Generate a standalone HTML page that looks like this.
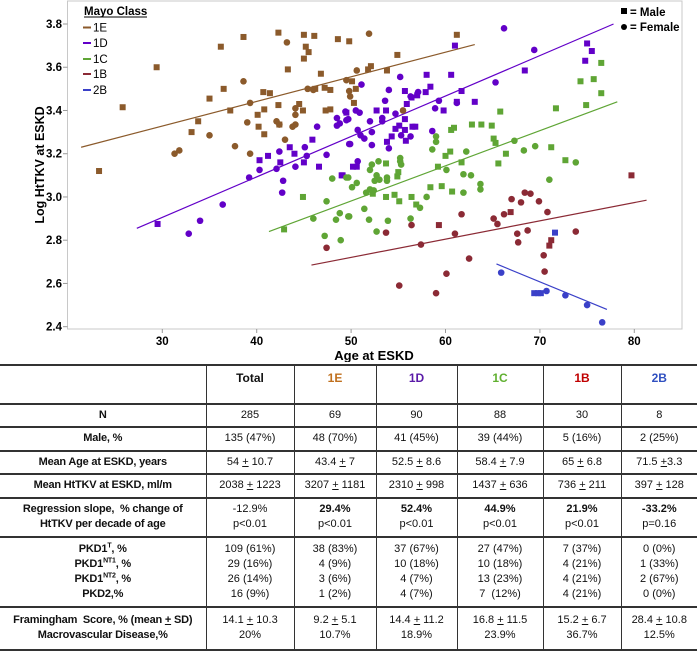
<!DOCTYPE html>
<html><head><meta charset="utf-8">
<style>
body{margin:0;background:#fff;width:697px;height:651px;overflow:hidden;position:relative;font-family:"Liberation Sans",sans-serif;}
#chart{position:absolute;left:0;top:0;}
table{position:absolute;left:0;top:364px;width:697px;border-collapse:collapse;table-layout:fixed;font-size:11px;color:#111;}
td{border-top:2px solid #333;border-bottom:2px solid #333;border-left:1.5px solid #333;text-align:center;padding:0;line-height:15px;white-space:nowrap;overflow:hidden;}
td:first-child{border-left:none;font-weight:bold;letter-spacing:-0.2px;}
tr.h td{vertical-align:top;padding-top:5px;font-weight:bold;font-size:12px;}
sup{font-size:7px;line-height:0;}
</style></head><body>
<svg id="chart" width="697" height="362" font-family="Liberation Sans, sans-serif">
<rect x="67.5" y="1" width="614.5" height="328" fill="#fff" stroke="#c8c8c8" stroke-width="1"/>
<g id="axes"></g>
<g id="lines"></g>
<g id="marks"></g>
<text transform="translate(44,165) rotate(-90)" text-anchor="middle" font-size="12.5" font-weight="bold">Log HtTKV at ESKD</text>
<text x="374" y="360" text-anchor="middle" font-size="13" font-weight="bold">Age at ESKD</text>
<g font-size="11.5">
<text x="84" y="15" font-weight="bold">Mayo Class</text>
<line x1="84" y1="17" x2="147" y2="17" stroke="#000" stroke-width="1"/>
<line x1="83" y1="27.5" x2="91" y2="27.5" stroke="#8B5A2B" stroke-width="2"/><text x="93" y="31.5">1E</text>
<line x1="83" y1="43" x2="91" y2="43" stroke="#6200C8" stroke-width="2"/><text x="93" y="47">1D</text>
<line x1="83" y1="59" x2="91" y2="59" stroke="#5FA535" stroke-width="2"/><text x="93" y="63">1C</text>
<line x1="83" y1="74" x2="91" y2="74" stroke="#8B2A35" stroke-width="2"/><text x="93" y="78">1B</text>
<line x1="83" y1="90" x2="91" y2="90" stroke="#3A40C8" stroke-width="2"/><text x="93" y="94">2B</text>
</g>
<g font-size="11.5" font-weight="bold">
<rect x="621" y="8" width="6" height="6" fill="#000"/><text x="630" y="16">= Male</text>
<circle cx="624" cy="27" r="3" fill="#000"/><text x="630" y="31">= Female</text>
</g>
</svg>

<table>
<colgroup><col style="width:206px"><col style="width:88px"><col style="width:82px"><col style="width:81px"><col style="width:86px"><col style="width:78px"><col style="width:76px"></colgroup>
<tr class="h" style="height:39px"><td></td><td>Total</td><td style="color:#C0701E">1E</td><td style="color:#5A1AA8">1D</td><td style="color:#60B030">1C</td><td style="color:#C00000">1B</td><td style="color:#3050C0">2B</td></tr>
<tr style="height:23px"><td>N</td><td>285</td><td>69</td><td>90</td><td>88</td><td>30</td><td>8</td></tr>
<tr style="height:23.5px"><td>Male, %</td><td>135 (47%)</td><td>48 (70%)</td><td>41 (45%)</td><td>39 (44%)</td><td>5 (16%)</td><td>2 (25%)</td></tr>
<tr style="height:23.5px"><td>Mean Age at ESKD, years</td><td>54 <u>+</u> 10.7</td><td>43.4 <u>+</u> 7</td><td>52.5 <u>+</u> 8.6</td><td>58.4 <u>+</u> 7.9</td><td>65 <u>+</u> 6.8</td><td>71.5 <u>+</u>3.3</td></tr>
<tr style="height:23.5px"><td>Mean HtTKV at ESKD, ml/m</td><td>2038 <u>+</u> 1223</td><td>3207 <u>+</u> 1181</td><td>2310 <u>+</u> 998</td><td>1437 <u>+</u> 636</td><td>736 <u>+</u> 211</td><td>397 <u>+</u> 128</td></tr>
<tr style="height:39px"><td>Regression slope,&nbsp; % change of<br>HtTKV per decade of age</td><td>-12.9%<br>p&lt;0.01</td><td><b>29.4%</b><br>p&lt;0.01</td><td><b>52.4%</b><br>p&lt;0.01</td><td><b>44.9%</b><br>p&lt;0.01</td><td><b>21.9%</b><br>p&lt;0.01</td><td><b>-33.2%</b><br>p=0.16</td></tr>
<tr style="height:70px"><td>PKD1<sup>T</sup>, %<br>PKD1<sup>NT1</sup>, %<br>PKD1<sup>NT2</sup>, %<br>PKD2,%</td><td>109 (61%)<br>29 (16%)<br>26 (14%)<br>16 (9%)</td><td>38 (83%)<br>4 (9%)<br>3 (6%)<br>1 (2%)</td><td>37 (67%)<br>10 (18%)<br>4 (7%)<br>4 (7%)</td><td>27 (47%)<br>10 (18%)<br>13 (23%)<br>7 &nbsp;(12%)</td><td>7 (37%)<br>4 (21%)<br>4 (21%)<br>4 (21%)</td><td>0 (0%)<br>1 (33%)<br>2 (67%)<br>0 (0%)</td></tr>
<tr style="height:43px"><td>Framingham&nbsp; Score, % (mean <u>+</u> SD)<br>Macrovascular Disease,%</td><td>14.1 <u>+</u> 10.3<br>20%</td><td>9.2 <u>+</u> 5.1<br>10.7%</td><td>14.4 <u>+</u> 11.2<br>18.9%</td><td>16.8 <u>+</u> 11.5<br>23.9%</td><td>15.2 <u>+</u> 6.7<br>36.7%</td><td>28.4 <u>+</u> 10.8<br>12.5%</td></tr>
</table>

<script>
const xTicks=[30,40,50,60,70,80];
const yTicks=[2.4,2.6,2.8,3.0,3.2,3.4,3.6,3.8];
const classes=['1E','1D','1C','1B','2B'];
const colors={'1E':'#8B5A2B','1D':'#6200C8','1C':'#5FA535','1B':'#8B2A35','2B':'#3A40C8'};
const pts1E=[[25.8,3.415,'M'],[29.4,3.60,'M'],[23.3,3.12,'M'],[33.1,3.30,'M'],[33.8,3.35,'M'],[35.0,3.455,'M'],[36.2,3.695,'M'],[36.5,3.50,'M'],[37.2,3.40,'M'],[38.6,3.74,'M'],[40.1,3.38,'M'],[40.2,3.325,'M'],[40.7,3.485,'M'],[40.8,3.405,'M'],[40.8,3.29,'M'],[41.4,3.48,'M'],[42.3,3.76,'M'],[42.3,3.425,'M'],[42.4,3.335,'M'],[43.3,3.59,'M'],[44.5,3.43,'M'],[45.0,3.75,'M'],[45.2,3.695,'M'],[45.5,3.67,'M'],[45.0,3.64,'M'],[44.9,3.40,'M'],[46.1,3.745,'M'],[46.8,3.57,'M'],[46.2,3.50,'M'],[47.2,3.505,'M'],[47.3,3.40,'M'],[47.8,3.495,'M'],[47.8,3.405,'M'],[48.6,3.73,'M'],[49.8,3.72,'M'],[54.9,3.657,'M'],[51.8,3.59,'M'],[52.1,3.605,'M'],[53.8,3.585,'M'],[50.1,3.535,'M'],[50.5,3.50,'M'],[50.3,3.435,'M'],[61.2,3.75,'M'],
[38.6,3.535,'F'],[31.3,3.20,'F'],[31.8,3.215,'F'],[35.0,3.285,'F'],[37.7,3.235,'F'],[39.0,3.345,'F'],[39.3,3.435,'F'],[39.3,3.20,'F'],[43.2,3.715,'F'],[42.1,3.35,'F'],[42.4,3.335,'F'],[43.0,3.265,'F'],[43.8,3.325,'F'],[44.1,3.38,'F'],[44.1,3.335,'F'],[44.1,3.41,'F'],[45.4,3.50,'F'],[46.0,3.495,'F'],[49.5,3.54,'F'],[49.8,3.49,'F'],[51.9,3.755,'F'],[50.6,3.585,'F'],[49.9,3.465,'F'],[55.5,3.40,'F']];
const pts1D=[[29.5,2.875,'M'],[40.3,3.17,'M'],[41.2,3.19,'M'],[42.5,3.16,'M'],[43.5,3.23,'M'],[44.0,3.20,'M'],[45.0,3.16,'M'],[45.9,3.265,'M'],[46.6,3.14,'M'],[49.1,3.10,'M'],[49.5,3.39,'M'],[61.0,3.70,'M'],[68.4,3.585,'M'],[75.0,3.71,'M'],[75.5,3.675,'M'],[74.8,3.63,'M'],[58.0,3.565,'M'],[60.6,3.565,'M'],[58.4,3.51,'M'],[57.9,3.485,'M'],[55.7,3.49,'M'],[61.7,3.49,'M'],[57.0,3.47,'M'],[56.4,3.46,'M'],[61.2,3.44,'M'],[63.1,3.44,'M'],[55.9,3.43,'M'],[59.8,3.40,'M'],[52.7,3.40,'M'],[53.7,3.40,'M'],[55.7,3.36,'M'],[55.1,3.33,'M'],[54.7,3.315,'M'],[55.7,3.31,'M'],[56.5,3.325,'M'],[56.8,3.325,'M'],[54.3,3.28,'M'],[53.8,3.255,'M'],[55.8,3.26,'M'],[50.2,3.14,'M'],[50.6,3.14,'M'],[49.0,3.10,'M'],
[32.8,2.83,'F'],[34.0,2.89,'F'],[36.4,2.965,'F'],[39.2,3.09,'F'],[40.3,3.125,'F'],[42.1,3.13,'F'],[42.4,3.21,'F'],[42.8,3.075,'F'],[42.7,3.02,'F'],[44.1,3.14,'F'],[45.1,3.23,'F'],[45.3,3.19,'F'],[46.4,3.325,'F'],[47.4,3.195,'F'],[48.5,3.365,'F'],[48.5,3.33,'F'],[48.8,3.34,'F'],[49.8,3.245,'F'],[49.7,3.36,'F'],[66.2,3.78,'F'],[69.4,3.68,'F'],[65.3,3.53,'F'],[55.2,3.555,'F'],[51.1,3.52,'F'],[54.0,3.495,'F'],[56.3,3.465,'F'],[59.3,3.445,'F'],[57.1,3.485,'F'],[53.6,3.445,'F'],[58.9,3.41,'F'],[49.4,3.395,'F'],[50.5,3.40,'F'],[50.9,3.39,'F'],[52.0,3.35,'F'],[53.3,3.365,'F'],[53.3,3.35,'F'],[49.5,3.355,'F'],[54.7,3.385,'F'],[50.7,3.31,'F'],[52.2,3.30,'F'],[51.0,3.285,'F'],[51.4,3.27,'F'],[49.9,3.245,'F'],[52.2,3.24,'F'],[54.0,3.225,'F'],[55.3,3.285,'F'],[56.3,3.28,'F'],[58.6,3.305,'F'],[61.2,3.435,'F'],[50.7,3.165,'F']];
const pts1C=[[42.9,2.85,'M'],[44.9,3.00,'M'],[76.5,3.62,'M'],[74.3,3.535,'M'],[75.7,3.545,'M'],[76.5,3.48,'M'],[74.9,3.425,'M'],[71.7,3.41,'M'],[65.8,3.395,'M'],[62.8,3.335,'M'],[63.8,3.335,'M'],[64.9,3.33,'M'],[60.6,3.31,'M'],[60.9,3.32,'M'],[65.1,3.27,'M'],[65.3,3.25,'M'],[71.2,3.23,'M'],[66.4,3.20,'M'],[65.6,3.155,'M'],[72.7,3.17,'M'],[60.5,3.21,'M'],[60.0,3.19,'M'],[61.7,3.16,'M'],[59.2,3.14,'M'],[53.7,3.155,'M'],[54.9,3.095,'M'],[55.0,3.115,'M'],[59.6,3.05,'M'],[58.4,3.045,'M'],[60.7,3.025,'M'],[56.4,3.00,'M'],[54.6,3.01,'M'],[53.7,3.00,'M'],[55.1,2.98,'M'],[56.9,2.965,'M'],[52.3,3.015,'M'],
[46.0,2.90,'F'],[47.4,2.98,'F'],[47.2,2.82,'F'],[48.0,3.085,'F'],[48.4,2.895,'F'],[48.8,2.925,'F'],[48.9,2.80,'F'],[49.7,2.91,'F'],[49.7,3.09,'F'],[69.5,3.235,'F'],[68.3,3.215,'F'],[67.3,3.26,'F'],[73.8,3.16,'F'],[71.0,3.08,'F'],[62.2,3.21,'F'],[61.9,3.105,'F'],[62.7,3.10,'F'],[60.1,3.125,'F'],[63.7,3.06,'F'],[63.7,3.035,'F'],[61.9,3.02,'F'],[58.0,3.00,'F'],[58.6,3.22,'F'],[59.0,3.255,'F'],[59.0,3.28,'F'],[55.2,3.18,'F'],[55.2,3.165,'F'],[55.3,3.15,'F'],[52.9,3.165,'F'],[52.2,3.15,'F'],[52.0,3.125,'F'],[53.0,3.08,'F'],[52.7,3.10,'F'],[52.5,3.075,'F'],[53.8,3.09,'F'],[53.8,3.075,'F'],[52.4,3.03,'F'],[52.0,3.035,'F'],[51.6,3.02,'F'],[50.6,3.065,'F'],[50.1,3.045,'F'],[49.5,3.09,'F'],[51.4,2.945,'F'],[49.8,2.91,'F'],[51.9,2.895,'F'],[52.7,2.84,'F'],[53.9,2.89,'F'],[56.3,2.90,'F'],[57.3,2.95,'F']];
const pts1B=[[79.7,3.10,'M'],[59.3,2.87,'M'],[66.9,2.93,'M'],[71.2,2.80,'M'],[71.0,2.775,'M'],
[47.4,2.765,'F'],[53.7,2.835,'F'],[56.4,2.87,'F'],[57.4,2.78,'F'],[55.1,2.59,'F'],[59.0,2.555,'F'],[60.1,2.645,'F'],[61.0,2.83,'F'],[61.7,2.92,'F'],[62.5,2.715,'F'],[65.1,2.90,'F'],[65.5,2.875,'F'],[66.2,2.92,'F'],[67.0,2.99,'F'],[68.0,2.975,'F'],[68.4,3.02,'F'],[69.0,3.015,'F'],[69.9,2.98,'F'],[70.8,2.93,'F'],[67.6,2.83,'F'],[67.7,2.79,'F'],[68.7,2.845,'F'],[70.4,2.73,'F'],[70.5,2.655,'F'],[73.8,2.84,'F']];
const pts2B=[[71.6,2.835,'M'],[69.4,2.555,'M'],[69.8,2.555,'M'],[70.1,2.555,'M'],[65.9,2.65,'F'],[70.7,2.565,'F'],[72.7,2.545,'F'],[75.0,2.50,'F'],[76.6,2.42,'F']];
const fit1E=[21.4,3.23,63.1,3.705];
const fit1D=[27.3,2.855,77.8,3.80];
const fit1C=[41.3,2.84,78.2,3.44];
const fit1B=[45.8,2.685,81.3,2.985];
const fit2B=[65.4,2.69,77.1,2.48];

const NS='http://www.w3.org/2000/svg';
function X(a){return 162.3+(a-30)*9.44;}
function Y(v){return 24+(3.8-v)*216.2;}
function mk(tag,attrs,parent){const e=document.createElementNS(NS,tag);for(const k in attrs)e.setAttribute(k,attrs[k]);parent.appendChild(e);return e;}
const axes=document.getElementById('axes');
xTicks.forEach(t=>{
  const tl=mk('line',{x1:X(t),x2:X(t),y1:329,y2:333,stroke:'#999'},axes);
  
  
  const tx=mk('text',{x:X(t),y:345,'text-anchor':'middle','font-size':'11.5','font-weight':'bold'},axes);
  tx.textContent=t;
  
  
});
yTicks.forEach(t=>{
  const tl=mk('line',{x1:63,x2:67.5,y1:Y(t),y2:Y(t),stroke:'#999'},axes);
  
  
  const tx=mk('text',{x:62,y:Y(t)+4,'text-anchor':'end','font-size':'11.5','font-weight':'bold'},axes);
  tx.textContent=t.toFixed(1);
  
  
});
const fits={'1E':fit1E,'1D':fit1D,'1C':fit1C,'1B':fit1B,'2B':fit2B};
const pts={'1E':pts1E,'1D':pts1D,'1C':pts1C,'1B':pts1B,'2B':pts2B};
const lg=document.getElementById('lines'), mg=document.getElementById('marks');
classes.forEach(c=>{
  const f=fits[c];
  const l=mk('line',{x1:X(f[0]),y1:Y(f[1]),x2:X(f[2]),y2:Y(f[3]),stroke:colors[c],'stroke-width':1.2},lg);
  
  
  pts[c].forEach(p=>{
    let e;
    if(p[2]==='M'){e=mk('rect',{x:X(p[0])-3,y:Y(p[1])-3,width:6,height:6,fill:colors[c]},mg);}
    else{e=mk('circle',{cx:X(p[0]),cy:Y(p[1]),r:3.3,fill:colors[c]},mg);}
    
    
  });
});
</script>
</body></html>
